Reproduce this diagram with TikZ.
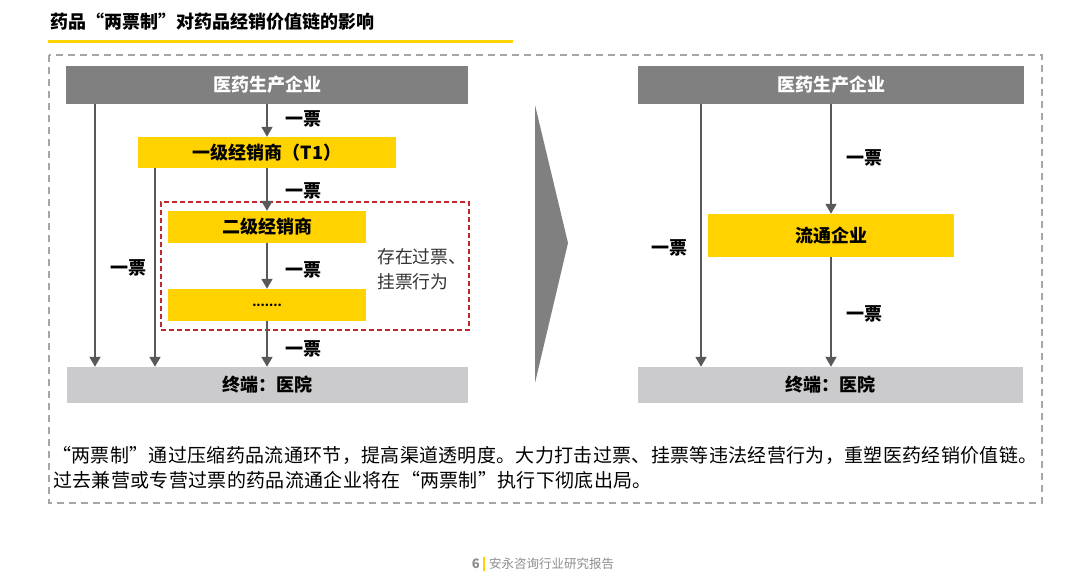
\documentclass[tikz,border=0pt]{standalone}
\usepackage{fontspec}
\setmainfont{Noto Sans CJK SC}
\usetikzlibrary{arrows.meta}
\definecolor{eyyellow}{HTML}{FFD200}
\definecolor{boxgray}{HTML}{808080}
\definecolor{lightbox}{HTML}{CBCBCD}
\definecolor{arrowgray}{HTML}{595959}
\definecolor{dashgray}{HTML}{A6A6A6}
\definecolor{reddash}{HTML}{C0282D}
\definecolor{footgray}{HTML}{8C8C8C}
\tikzset{
  topbox/.style={fill=boxgray, draw=none, inner sep=0pt, text=white, font=\fontsize{18}{20}\selectfont\bfseries},
  yelbox/.style={fill=eyyellow, draw=none, inner sep=0pt, text=black, font=\fontsize{18}{20}\selectfont\bfseries},
  botbox/.style={fill=lightbox, draw=none, inner sep=0pt, text=black, font=\fontsize{18}{20}\selectfont\bfseries},
  arr/.style={draw=arrowgray, line width=1.8pt, -{Triangle[width=11pt,length=10pt]}},
  piao/.style={inner sep=0pt, font=\fontsize{18}{20}\selectfont\bfseries},
  para/.style={inner sep=0pt, anchor=west, font=\fontsize{19}{22}\selectfont\addfontfeature{LetterSpace=1.7}},
}
\begin{document}
\begin{tikzpicture}[x=1pt,y=-1pt]
\useasboundingbox (0,0) rectangle (1080,583);
% title
\node[inner sep=0pt, anchor=west, font=\fontsize{18}{20}\selectfont\bfseries] (title) at (50,22) {药品“两票制”对药品经销价值链的影响};
\draw[eyyellow, line width=3pt] (48,42) -- (513,42);
% outer dashed frame
\draw[dashgray, line width=1.8pt, dash pattern=on 7pt off 5pt] (49,55) rectangle (1042,503);

% ---------- left panel ----------
\node[topbox, minimum width=402pt, minimum height=38pt] (ltop) at (267,85) {医药生产企业};
\node[yelbox, minimum width=258pt, minimum height=31pt] (t1) at (267,152.5) {一级经销商（T1）};
\node[draw=reddash, line width=1.5pt, dash pattern=on 5pt off 3pt, minimum width=308pt, minimum height=128pt, inner sep=0pt] (redbox) at (315,266) {};
\node[yelbox, minimum width=198pt, minimum height=32pt] (t2) at (267,227) {二级经销商};
\node[yelbox, minimum width=198pt, minimum height=32pt, font=\fontsize{12}{12}\selectfont\bfseries] (tn) at (267,305) {\raisebox{-3pt}{.......}};
\node[botbox, minimum width=401pt, minimum height=36pt] (lbot) at (267.5,385) {终端：医院};
\node[inner sep=0pt, anchor=west, align=left, text=black!80, font=\fontsize{17.8}{25}\selectfont] (note) at (377,269) {存在过票、\\挂票行为};

\coordinate (la) at (95,0);
\coordinate (lb) at (155,0);
\coordinate (lc) at (267,0);
\draw[arr] (ltop.south -| la) -- (lbot.north -| la);
\draw[arr] (t1.south -| lb) -- (lbot.north -| lb);
\draw[arr] (ltop.south -| lc) -- (t1.north -| lc);
\draw[arr] (t1.south -| lc) -- (t2.north -| lc);
\draw[arr] (t2.south -| lc) -- (tn.north -| lc);
\draw[arr] (tn.south -| lc) -- (lbot.north -| lc);
\node[piao] (p1) at (303,119) {一票};
\node[piao] (p2) at (303,191) {一票};
\node[piao] (p3) at (303,270) {一票};
\node[piao] (p4) at (303,349) {一票};
\node[piao] (p5) at (128,268) {一票};

% ---------- chevron ----------
\fill[boxgray] (535,105) -- (568,243) -- (535,383) -- cycle;

% ---------- right panel ----------
\node[topbox, minimum width=386pt, minimum height=38pt] (rtop) at (831,85) {医药生产企业};
\node[yelbox, minimum width=246pt, minimum height=43pt] (rmid) at (831,235.5) {流通企业};
\node[botbox, minimum width=385pt, minimum height=36pt] (rbot) at (830.5,385) {终端：医院};
\coordinate (ra) at (701,0);
\coordinate (rc) at (831,0);
\draw[arr] (rtop.south -| ra) -- (rbot.north -| ra);
\draw[arr] (rtop.south -| rc) -- (rmid.north -| rc);
\draw[arr] (rmid.south -| rc) -- (rbot.north -| rc);
\node[piao] (q1) at (864,158) {一票};
\node[piao] (q2) at (864,314) {一票};
\node[piao] (q3) at (669,248) {一票};

% ---------- paragraph ----------
\node[para] (line1) at (52,455) {“两票制”通过压缩药品流通环节，提高渠道透明度。大力打击过票、挂票等违法经营行为，重塑医药经销价值链。};
\node[para] (line2) at (53,480) {过去兼营或专营过票的药品流通企业将在“两票制”执行下彻底出局。};

% ---------- footer ----------
\node[inner sep=0pt, anchor=east, text=footgray, font=\fontsize{13}{14}\selectfont\bfseries] (pg) at (480,564) {6};
\draw[eyyellow, line width=2.5pt] (484,557) -- (484,571);
\node[inner sep=0pt, anchor=west, text=footgray, font=\fontsize{12.5}{14}\selectfont] (foot) at (489,564) {安永咨询行业研究报告};
\end{tikzpicture}
\end{document}
